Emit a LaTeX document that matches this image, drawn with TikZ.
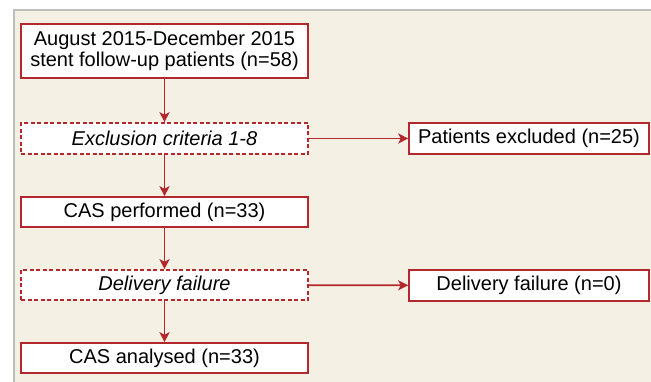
\documentclass[tikz,border=0pt]{standalone}
\usepackage{fontspec}
\setmainfont{Liberation Sans}
\usetikzlibrary{arrows.meta}
\definecolor{fr}{HTML}{B3282D}
\definecolor{bg}{HTML}{F4F0E3}
\definecolor{gb}{HTML}{BDBDBD}
\tikzset{
  box/.style={draw=fr, line width=1.6pt, fill=white, inner sep=0pt, align=center,
    font=\fontsize{20}{21}\selectfont},
  dbox/.style={box, dashed, dash pattern=on 4pt off 2.5pt},
  arr/.style={draw=fr, line width=1.8pt, -{Stealth[length=10pt,width=10pt,inset=2.5pt]}}
}
\begin{document}
\begin{tikzpicture}[x=1pt,y=-1pt]
\useasboundingbox (0,0) rectangle (651,382);
\fill[white] (0,0) rectangle (651,382);
\fill[bg] (14,10) rectangle (651,382);
\draw[gb, line width=1.8pt] (14,382) -- (14,10) -- (651,10);
\node[box, minimum width=287pt, minimum height=54pt] (a) at (164.5,51) {August 2015-December 2015\\stent follow-up patients (n=58)};
\node[dbox, minimum width=287pt, minimum height=31pt] (b) at (164.5,138.5) {\itshape Exclusion criteria 1-8};
\node[box, minimum width=240pt, minimum height=31pt] (c) at (529,138.5) {Patients excluded (n=25)};
\node[box, minimum width=287pt, minimum height=30pt] (d) at (164.5,212) {CAS performed (n=33)};
\node[dbox, minimum width=287pt, minimum height=30pt] (e) at (164.5,285) {\itshape Delivery failure};
\node[box, minimum width=240pt, minimum height=31pt] (f) at (529,285.5) {Delivery failure (n=0)};
\node[box, minimum width=287pt, minimum height=30pt] (g) at (164.5,358) {CAS analysed (n=33)};
\draw[arr] (a) -- (b);
\draw[arr] (b) -- (c);
\draw[arr] (b) -- (d);
\draw[arr] (d) -- (e);
\draw[arr] (e) -- (f);
\draw[arr] (e) -- (g);
\end{tikzpicture}
\end{document}
